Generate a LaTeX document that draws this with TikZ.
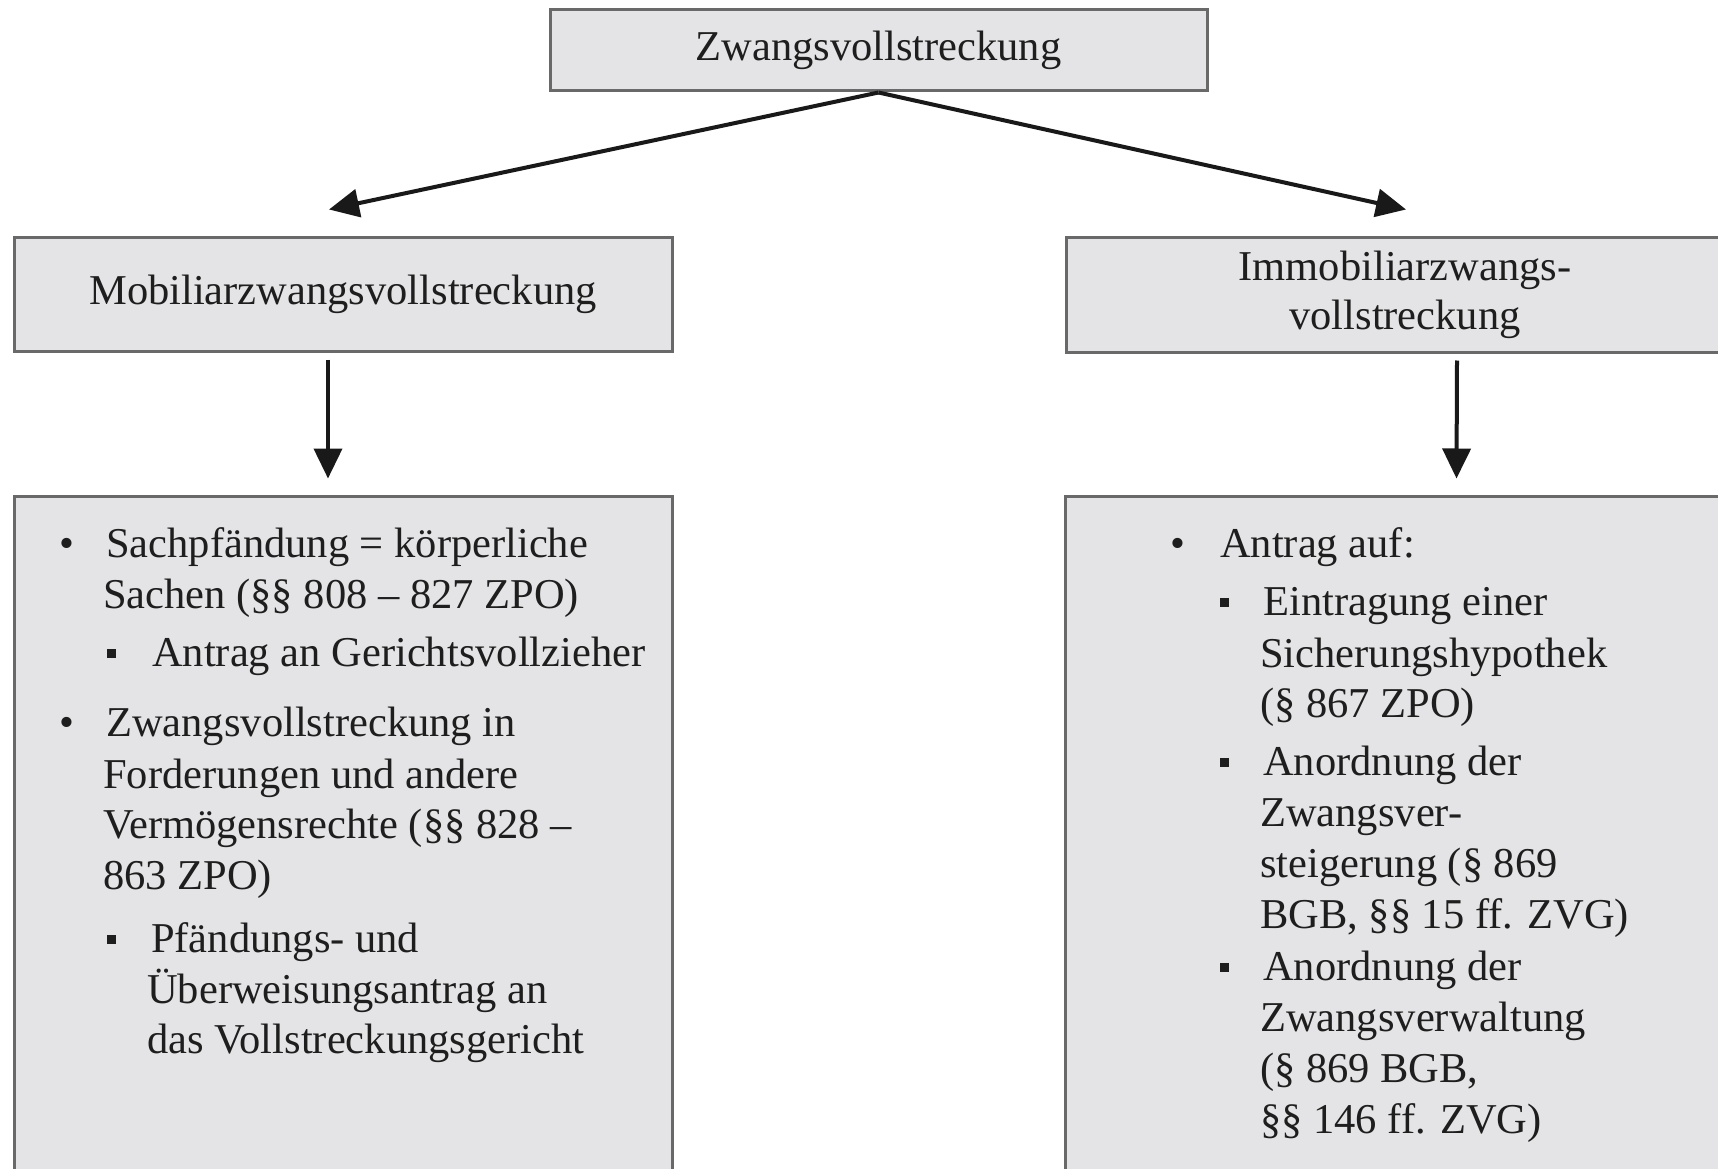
\documentclass[tikz,border=0pt]{standalone}
\usepackage{fontspec}
\setmainfont{Liberation Serif}
\usetikzlibrary{arrows.meta}
\definecolor{boxgray}{RGB}{228,228,230}
\definecolor{framegray}{RGB}{105,105,105}
\definecolor{textgray}{RGB}{30,30,30}
\newcommand{\subbul}{\rule[8pt]{9pt}{9pt}}

\begin{document}
\begin{tikzpicture}[x=1pt,y=-1pt,
    box/.style={draw=framegray,fill=boxgray,line width=3pt,inner sep=0pt,
      text=textgray,font=\fontsize{42.5}{49}\selectfont},
    txt/.style={anchor=base west,inner sep=0pt,text=textgray,font=\fontsize{42.5}{51}\selectfont},
    dot/.style={anchor=base,inner sep=0pt,text=textgray,font=\fontsize{42.5}{51}\selectfont},
    arr/.style={-{Triangle[length=30pt,width=28pt]},line width=4pt,black!90}]
        \clip (0,0) rectangle (1718,1169);
        % Top
        \node[box,minimum width=657pt,minimum height=81pt] (zv) at (878.5,50.5) {Zwangsvollstreckung};
        % Second row
        \node[box,minimum width=658pt,minimum height=114pt] (mob) at (343,294) {Mobiliarzwangsvollstreckung};
        \node[box,minimum width=678pt,minimum height=115pt,align=center] (imm) at (1405,294.5) {Immobiliarzwangs-\\vollstreckung};
        % Content boxes
        \node[box,minimum width=658pt,minimum height=694pt] (mobinh) at (343,843) {};
        \node[box,minimum width=679pt,minimum height=694pt] (imminh) at (1404.5,843) {};

        % Arrows
        \draw[arr] (zv.south) -- ([xshift=-14pt,yshift=26pt]mob.north);
        \draw[arr] (zv.south) -- ([xshift=1pt,yshift=26pt]imm.north);
        \draw[arr] ([xshift=-15pt,yshift=-7pt]mob.south) -- ([xshift=-15pt,yshift=16pt]mobinh.north);
        \draw[arr] ([xshift=52pt,yshift=-7pt]imm.south) -- ([xshift=52pt,yshift=16pt]imminh.north);

        % Left list
        \node[dot] (mb1) at (67,557) {•};
        \node[txt] (m1a) at (106,557) {Sachpfändung = körperliche};
        \node[txt] (m1b) at (103,608) {Sachen (§§ 808 – 827 ZPO)};
        \node[dot] (mb2) at (111,666) {\subbul};
        \node[txt] (m2a) at (152,666) {Antrag an Gerichtsvollzieher};
        \node[dot] (mb3) at (67,736) {•};
        \node[txt] (m3a) at (106,736) {Zwangsvollstreckung in};
        \node[txt] (m3b) at (103,788) {Forderungen und andere};
        \node[txt] (m3c) at (103,838) {Vermögensrechte (§§ 828 –};
        \node[txt] (m3d) at (103,889) {863 ZPO)};
        \node[dot] (mb4) at (111,952) {\subbul};
        \node[txt] (m4a) at (151,952) {Pfändungs- und};
        \node[txt] (m4b) at (147,1003) {Überweisungsantrag an};
        \node[txt] (m4c) at (147,1053) {das Vollstreckungsgericht};

        % Right list
        \node[dot] (ib1) at (1178,557) {•};
        \node[txt] (i1a) at (1220,557) {Antrag auf:};
        \node[dot] (ib2) at (1224,615) {\subbul};
        \node[txt] (i2a) at (1263,615) {Eintragung einer};
        \node[txt] (i2b) at (1260,667) {Sicherungshypothek};
        \node[txt] (i2c) at (1260,717) {(§ 867 ZPO)};
        \node[dot] (ib3) at (1224,775) {\subbul};
        \node[txt] (i3a) at (1263,775) {Anordnung der};
        \node[txt] (i3b) at (1260,826) {Zwangsver-};
        \node[txt] (i3c) at (1260,877) {steigerung (§ 869};
        \node[txt] (i3d) at (1260,928) {BGB, §§ 15 ff. ZVG)};
        \node[dot] (ib4) at (1224,980) {\subbul};
        \node[txt] (i4a) at (1263,980) {Anordnung der};
        \node[txt] (i4b) at (1260,1031) {Zwangsverwaltung};
        \node[txt] (i4c) at (1260,1082) {(§ 869 BGB,};
        \node[txt] (i4d) at (1260,1133) {§§ 146 ff. ZVG)};
\end{tikzpicture}
\end{document}
